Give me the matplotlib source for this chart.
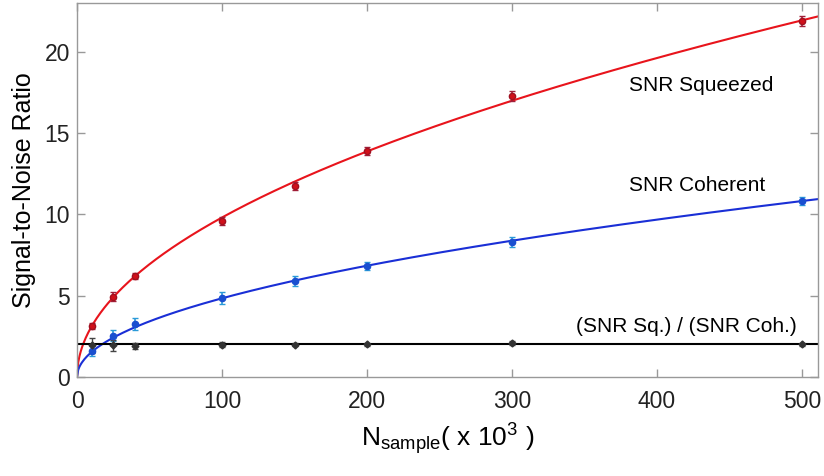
import numpy as np
import matplotlib
matplotlib.use("Agg")
import matplotlib.pyplot as plt

plt.rcParams['font.family'] = ['Liberation Sans', 'DejaVu Sans']
plt.rcParams['mathtext.fontset'] = 'custom'
plt.rcParams['mathtext.rm'] = 'Liberation Sans'
plt.rcParams['mathtext.it'] = 'Liberation Sans'

n_sample = [10, 25, 40, 100, 150, 200, 300, 500]
snr_sq = [3.15, 4.95, 6.2, 9.6, 11.75, 13.9, 17.3, 21.9]
snr_sq_err = [0.2, 0.25, 0.2, 0.25, 0.25, 0.25, 0.3, 0.3]
snr_coh = [1.6, 2.55, 3.25, 4.85, 5.9, 6.85, 8.3, 10.8]
snr_coh_err = [0.3, 0.35, 0.35, 0.35, 0.3, 0.25, 0.3, 0.25]
ratio = [1.95, 1.95, 1.9, 1.98, 1.98, 2.0, 2.08, 2.02]
ratio_err = [0.45, 0.35, 0.2, 0.15, 0.1, 0.1, 0.12, 0.1]
ratio_line = 2.0

x = np.array(n_sample, float)
def sqrt_fit(y):
    y = np.array(y, float)
    return np.sum(np.sqrt(x) * y) / np.sum(x)

fig = plt.figure(figsize=(8.24, 4.76), dpi=100)
ax = fig.add_axes([77/824, 1-377/476, (818-77)/824, (377-3)/476])

xx = np.linspace(0, 511, 600)
ax.plot(xx, sqrt_fit(snr_sq) * np.sqrt(xx), color='#e8141c', lw=1.5, zorder=2)
ax.plot(xx, sqrt_fit(snr_coh) * np.sqrt(xx), color='#1a2fd6', lw=1.5, zorder=2)
ax.axhline(ratio_line, color='black', lw=1.5, zorder=2)

ax.errorbar(n_sample, snr_sq, yerr=snr_sq_err, fmt='o', ms=4.5, color='#d0101a',
            mec='#a01020', ecolor='#a0203a', elinewidth=1.2, capsize=2.5, zorder=3)
ax.errorbar(n_sample, snr_coh, yerr=snr_coh_err, fmt='o', ms=4.5, color='#1a4fd0',
            mec='#1a4fd0', ecolor='#2a9ad8', elinewidth=1.2, capsize=2.5, zorder=3)
ax.errorbar(n_sample, ratio, yerr=ratio_err, fmt='D', ms=3.5, color='#333333',
            ecolor='#444444', elinewidth=1.0, capsize=2.5, zorder=3)

ax.text(381, 17.9, 'SNR Squeezed', fontsize=15, va='center', ha='left')
ax.text(381, 11.8, 'SNR Coherent', fontsize=15, va='center', ha='left')
ax.text(344, 3.1, '(SNR Sq.) / (SNR Coh.)', fontsize=15, va='center', ha='left')

ax.set_xlim(0, 511)
ax.set_ylim(0, 23)
ax.set_xticks([0, 100, 200, 300, 400, 500])
ax.set_yticks([0, 5, 10, 15, 20])
ax.tick_params(direction='in', top=True, right=True, length=6, width=1,
               color='#999999', labelsize=16.5, labelcolor='#222222')
ax.tick_params(axis='x', pad=9)
ax.tick_params(axis='y', pad=5)
for s in ax.spines.values():
    s.set_color('#999999')
    s.set_linewidth(1)
ax.set_xlabel(r'N$_{\mathrm{sample}}$( x 10$^{3}$ )', fontsize=19, labelpad=6)
ax.set_ylabel('Signal-to-Noise Ratio', fontsize=18, labelpad=6)

fig.savefig('out.png', dpi=100)
